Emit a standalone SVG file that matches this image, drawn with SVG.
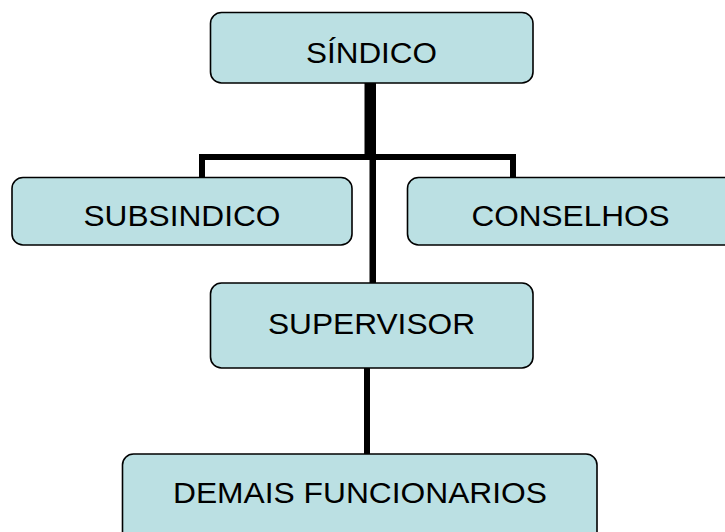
<svg xmlns="http://www.w3.org/2000/svg" width="725" height="532" viewBox="0 0 725 532">
<style>
.box{fill:#BBE0E3;stroke:#000;stroke-width:1.6}
.lbl{font-family:"Liberation Sans",Arial,sans-serif;font-size:30px;fill:#000;text-anchor:middle}
.c{fill:#000}
</style>
<rect width="725" height="532" fill="#fff"/>
<g id="connectors">
<rect class="c" x="364.5" y="82" width="11.5" height="76"/>
<rect class="c" x="199" y="154" width="317" height="6"/>
<rect class="c" x="199" y="154" width="6" height="24"/>
<rect class="c" x="510" y="154" width="6" height="24"/>
<rect class="c" x="369.5" y="158" width="6.5" height="126"/>
<rect class="c" x="364" y="367" width="6" height="88"/>
</g>
<g id="sindico">
<rect class="box" x="210.5" y="12.5" width="322.5" height="70.5" rx="11"/>
<text class="lbl" x="371.5" y="63" textLength="131" lengthAdjust="spacingAndGlyphs">SÍNDICO</text>
</g>
<g id="subsindico">
<rect class="box" x="12" y="177.5" width="340" height="67.5" rx="11"/>
<text class="lbl" x="182" y="226" textLength="197" lengthAdjust="spacingAndGlyphs">SUBSINDICO</text>
</g>
<g id="conselhos">
<rect class="box" x="407.5" y="177.5" width="330" height="67.5" rx="11"/>
<text class="lbl" x="570.5" y="226" textLength="198" lengthAdjust="spacingAndGlyphs">CONSELHOS</text>
</g>
<g id="supervisor">
<rect class="box" x="210.5" y="283" width="322.5" height="85" rx="11"/>
<text class="lbl" x="371.5" y="334" textLength="207" lengthAdjust="spacingAndGlyphs">SUPERVISOR</text>
</g>
<g id="demais">
<rect class="box" x="122.5" y="454" width="474.5" height="90" rx="11"/>
<text class="lbl" x="360" y="503" textLength="374" lengthAdjust="spacingAndGlyphs">DEMAIS FUNCIONARIOS</text>
</g>
</svg>
